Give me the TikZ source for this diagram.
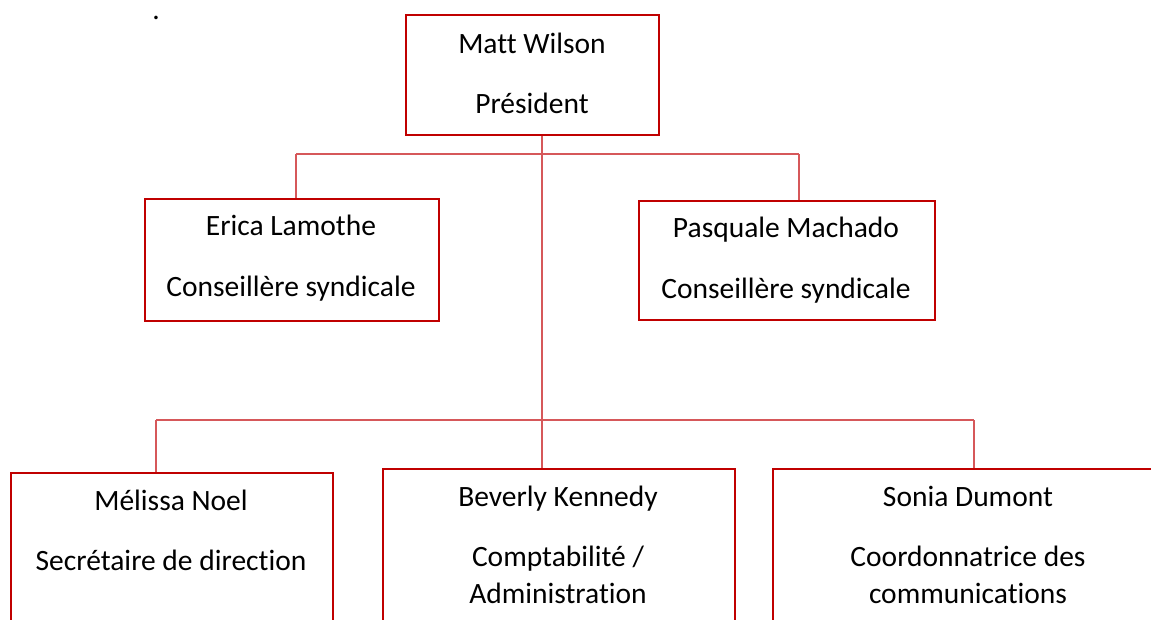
\documentclass[tikz,border=0pt]{standalone}
\usepackage{fontspec}
\setmainfont[Ligatures=NoCommon]{Carlito}
\definecolor{boxred}{RGB}{192,0,0}
\definecolor{linered}{RGB}{214,88,90}
\begin{document}
\begin{tikzpicture}[x=1pt,y=-1pt,
  box/.style={draw=boxred,line width=2.2pt,rectangle,inner sep=0pt,anchor=north west},
  conn/.style={draw=linered,line width=1.4pt},
  lbl/.style={anchor=base,inner sep=0pt,font=\fontsize{29.5}{29.5}\selectfont,text=black}]
\useasboundingbox (0,0) rectangle (1151,619);
\clip (0,0) rectangle (1151,619);
% boxes
\node[box,minimum width=253pt,minimum height=120pt] (matt) at (405,14) {};
\node[box,minimum width=294pt,minimum height=122pt] (erica) at (144,198) {};
\node[box,minimum width=296pt,minimum height=119pt] (pasq) at (638,200) {};
\node[box,minimum width=322pt,minimum height=180pt] (meli) at (10,472) {};
\node[box,minimum width=352pt,minimum height=180pt] (bev) at (382,468) {};
\node[box,minimum width=392pt,minimum height=180pt] (sonia) at (772,468) {};
% texts
\node[lbl] (t0) at (156,19) {.};
\node[lbl] (m1) at (532,53) {Matt Wilson};
\node[lbl] (m2) at (532,113) {Président};
\node[lbl] (e1) at (291,235) {Erica Lamothe};
\node[lbl] (e2) at (291,296) {Conseillère syndicale};
\node[lbl] (p1) at (786,237) {Pasquale Machado};
\node[lbl] (p2) at (786,298) {Conseillère syndicale};
\node[lbl] (n1) at (171,510) {Mélissa Noel};
\node[lbl] (n2) at (171,570) {Secrétaire de direction};
\node[lbl] (b1) at (558,506) {Beverly Kennedy};
\node[lbl] (b2) at (558,566) {Comptabilité /};
\node[lbl] (b3) at (558,603) {Administration};
\node[lbl] (s1) at (968,506) {Sonia Dumont};
\node[lbl] (s2) at (968,566) {Coordonnatrice des};
\node[lbl] (s3) at (968,603) {communications};
% connectors
\coordinate (trunk) at (542,154);
\coordinate (b1l) at (296,154);
\coordinate (b1r) at (799,154);
\coordinate (b2l) at (156,420);
\coordinate (b2r) at (974,420);
\draw[conn] (matt.south -| trunk) -- (bev.north -| trunk);
\draw[conn] (b1l) -- (b1r);
\draw[conn] (b1l) -- (b1l |- erica.north);
\draw[conn] (b1r) -- (b1r |- pasq.north);
\draw[conn] (b2l) -- (b2r);
\draw[conn] (b2l) -- (b2l |- meli.north);
\draw[conn] (b2r) -- (b2r |- sonia.north);
\end{tikzpicture}
\end{document}
